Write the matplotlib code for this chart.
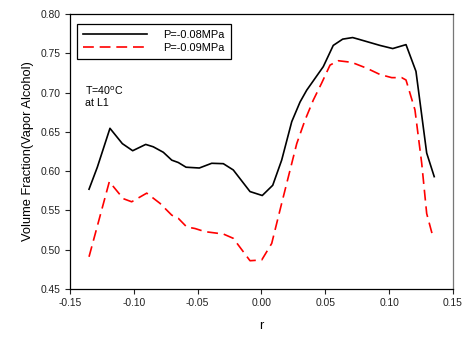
import matplotlib
matplotlib.use("Agg")
import matplotlib.pyplot as plt

plt.rcParams["font.family"] = ["Liberation Sans", "DejaVu Sans"]

# radial position r and vapour volume fraction for the two pressures
r_08 = [-0.1351, -0.1286, -0.1187, -0.1090, -0.1009, -0.0907, -0.0848, -0.0769,
        -0.0703, -0.0652, -0.0591, -0.0487, -0.0390, -0.0299, -0.0221, -0.0090,
        0.0006, 0.0088, 0.0158, 0.0237, 0.0302, 0.0354, 0.0406, 0.0484, 0.0562,
        0.0636, 0.0714, 0.0758, 0.0928, 0.1028, 0.1132, 0.1210, 0.1294, 0.1353]
vf_08 = [0.577, 0.605, 0.6545, 0.635, 0.626, 0.634, 0.631, 0.624,
         0.614, 0.611, 0.605, 0.604, 0.610, 0.6095, 0.6015, 0.574,
         0.569, 0.582, 0.614, 0.663, 0.688, 0.703, 0.715, 0.733, 0.760,
         0.768, 0.770, 0.768, 0.760, 0.756, 0.761, 0.727, 0.623, 0.593]

r_09 = [-0.1351, -0.1192, -0.1083, -0.1017, -0.0899, -0.0795, -0.0703, -0.0652,
        -0.0586, -0.0521, -0.0443, -0.0299, -0.0221, -0.0090, 0.0002, 0.0080,
        0.0158, 0.0276, 0.0341, 0.0406, 0.0471, 0.0537, 0.0602, 0.0706, 0.0824,
        0.0928, 0.1020, 0.1098, 0.1132, 0.1202, 0.1255, 0.1294, 0.1346]
vf_09 = [0.491, 0.5866, 0.565, 0.561, 0.572, 0.559, 0.544, 0.540,
         0.529, 0.527, 0.523, 0.520, 0.5145, 0.486, 0.487, 0.508,
         0.559, 0.635, 0.665, 0.6905, 0.712, 0.735, 0.7405, 0.7385, 0.731,
         0.723, 0.719, 0.719, 0.716, 0.678, 0.610, 0.546, 0.5145]

xticks = [-0.15, -0.10, -0.05, 0.00, 0.05, 0.10, 0.15]
yticks = [0.45, 0.50, 0.55, 0.60, 0.65, 0.70, 0.75, 0.80]

fig = plt.figure(figsize=(4.67, 3.37), dpi=100)
ax = fig.add_axes([0.1499, 0.1424, 0.8201, 0.8161])

ax.plot(r_08, vf_08, color="black", lw=1.2, label="P=-0.08MPa")
ax.plot(r_09, vf_09, color="red", lw=1.2, dashes=(6.5, 3.5), label="P=-0.09MPa")

ax.set_xlim(-0.15, 0.15)
ax.set_ylim(0.45, 0.80)
ax.set_xticks(xticks)
ax.set_yticks(yticks)
ax.set_xticklabels([f"{t:.2f}" for t in xticks])
ax.set_yticklabels([f"{t:.2f}" for t in yticks])
ax.tick_params(direction="out", length=3.4, width=0.8, labelsize=7.4,
               colors="#222222", pad=3.4)
ax.spines["right"].set_color("#777777")
for s in ax.spines.values():
    s.set_linewidth(0.9)

ax.set_xlabel("r", fontsize=9.3, labelpad=8)
ax.set_ylabel("Volume Fraction(Vapor Alcohol)", fontsize=9.3, labelpad=5)

ax.text(0.039, 0.745, "T=40$^{\\mathrm{o}}$C\nat L1", transform=ax.transAxes,
        fontsize=7.7, va="top", ha="left", linespacing=1.15)

leg = ax.legend(loc="upper left", bbox_to_anchor=(0.018, 0.811, 0.402, 0.1526),
                mode="expand", fontsize=7.9, handlelength=5.8,
                handletextpad=1.5, labelspacing=0.3, borderpad=0.55,
                borderaxespad=0, fancybox=False, framealpha=1, edgecolor="black")
leg.get_frame().set_linewidth(0.9)

fig.savefig("out.png", dpi=100)
